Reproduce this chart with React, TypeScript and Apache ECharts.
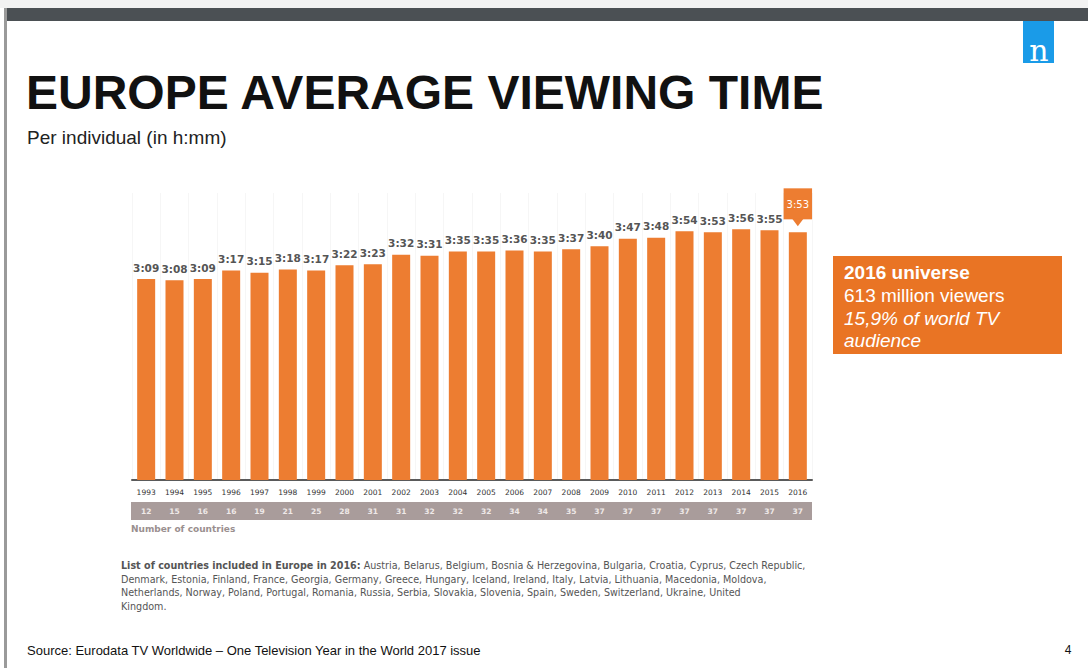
import React, { useEffect, useRef } from "react";
import * as echarts from "echarts";

const years = ["1993","1994","1995","1996","1997","1998","1999","2000","2001","2002","2003","2004","2005","2006","2007","2008","2009","2010","2011","2012","2013","2014","2015","2016"];
const minutes = [189,188,189,197,195,198,197,202,203,212,211,215,215,216,215,217,220,227,228,234,233,236,235,233];
const countries = ["12","15","16","16","19","21","25","28","31","31","32","32","32","34","34","35","37","37","37","37","37","37","37","37"];

const fmt = (m: number) => `${Math.floor(m / 60)}:${String(m % 60).padStart(2, "0")}`;

const ORANGE = "#ed7d31";

export default function App() {
  const ref = useRef<HTMLDivElement>(null);
  useEffect(() => {
    const chart = echarts.init(ref.current!, null, { renderer: "svg" });
    const last = minutes.length - 1;
    const barData = minutes.map((v, i) =>
      i === last
        ? {
            value: v,
            label: {
              show: true,
              position: "top",
              distance: 13,
              backgroundColor: ORANGE,
              color: "#fff",
              padding: [11, 3, 10, 3],
              fontSize: 10,
              fontWeight: "normal",
              formatter: (p: any) => fmt(p.value),
            },
          }
        : v
    );
    chart.setOption({
      animation: false,
      backgroundColor: "#fff",
      grid: [{ left: 132, right: 276, top: 193, height: 287 }],
      xAxis: [
        {
          type: "category",
          data: years,
          gridIndex: 0,
          axisLine: { show: true, lineStyle: { color: "#5a5a5a", width: 2 } },
          axisTick: { show: false },
          axisLabel: { interval: 0, color: "#333", fontSize: 7.5, margin: 8, fontFamily: "DejaVu Sans" },
          splitLine: { show: true, lineStyle: { color: "#f6f6f6" } },
        },
        {
          type: "category",
          data: countries,
          gridIndex: 0,
          position: "bottom",
          offset: 19,
          axisLine: { show: false },
          axisTick: { show: false },
          axisLabel: { interval: 0, color: "#efe9e8", fontSize: 7.5, fontFamily: "DejaVu Sans", fontWeight: "bold" },
        },
      ],
      yAxis: [{ type: "value", min: 0, max: 270, show: false, gridIndex: 0 }],
      series: [
        {
          type: "bar",
          data: barData,
          barWidth: 18,
          itemStyle: { color: ORANGE },
          label: {
            show: true,
            position: "top",
            distance: 6,
            color: "#555",
            fontSize: 10.5,
            fontFamily: "DejaVu Sans",
            fontWeight: "bold",
            formatter: (p: any) => fmt(p.value),
          },
          markPoint: {
            silent: true,
            data: [
              {
                coord: [years[last], minutes[last]],
                symbol: "triangle",
                symbolRotate: 180,
                symbolSize: [12, 8],
                symbolOffset: [0, -10],
                itemStyle: { color: ORANGE },
                label: { show: false },
              },
            ],
          },
        },
      ],
      graphic: [
        { type: "rect", shape: { x: 0, y: 0, width: 1088, height: 8 }, style: { fill: "#f2f2f2" } },
        { type: "rect", shape: { x: 4, y: 8, width: 1084, height: 13 }, style: { fill: "#4b5054" } },
        { type: "rect", shape: { x: 4, y: 8, width: 3, height: 660 }, style: { fill: "#9a9a9a" } },
        { type: "rect", shape: { x: 1023, y: 21, width: 31, height: 42 }, style: { fill: "#1a9be8" } },
        {
          type: "text",
          x: 1039,
          y: 50,
          style: { text: "n", fill: "#fff", font: "30px 'DejaVu Serif'", textAlign: "center", textVerticalAlign: "middle" },
        },
        {
          type: "text",
          x: 26,
          y: 92,
          style: {
            text: "EUROPE AVERAGE VIEWING TIME",
            fill: "#111",
            font: "bold 48px 'Liberation Sans'",
            textVerticalAlign: "middle",
          },
        },
        {
          type: "text",
          x: 27,
          y: 137,
          style: { text: "Per individual (in h:mm)", fill: "#222", font: "19px 'Liberation Sans'", textVerticalAlign: "middle" },
        },
        { type: "rect", z: -1, shape: { x: 131, y: 502, width: 681, height: 18 }, style: { fill: "#a99c9b" } },
        {
          type: "text",
          x: 131,
          y: 529,
          style: { text: "Number of countries", fill: "#9a8f8f", font: "bold 9px 'DejaVu Sans'", textVerticalAlign: "middle" },
        },
        { type: "rect", shape: { x: 833, y: 256, width: 229, height: 98 }, style: { fill: "#e97424" } },
        {
          type: "text",
          x: 844,
          y: 272,
          style: { text: "2016 universe", fill: "#fff", font: "bold 19px 'Liberation Sans'", textVerticalAlign: "middle" },
        },
        {
          type: "text",
          x: 844,
          y: 295,
          style: { text: "613 million viewers", fill: "#fff", font: "19px 'Liberation Sans'", textVerticalAlign: "middle" },
        },
        {
          type: "text",
          x: 844,
          y: 318,
          style: { text: "15,9% of world TV", fill: "#fff", font: "italic 19px 'Liberation Sans'", textVerticalAlign: "middle" },
        },
        {
          type: "text",
          x: 844,
          y: 340,
          style: { text: "audience", fill: "#fff", font: "italic 19px 'Liberation Sans'", textVerticalAlign: "middle" },
        },
        {
          type: "text",
          x: 121,
          y: 559,
          style: {
            text:
              "{b|List of countries included in Europe in 2016:} Austria, Belarus, Belgium, Bosnia & Herzegovina, Bulgaria, Croatia, Cyprus, Czech Republic,\nDenmark, Estonia, Finland, France, Georgia, Germany, Greece, Hungary, Iceland, Ireland, Italy, Latvia, Lithuania, Macedonia, Moldova,\nNetherlands, Norway, Poland, Portugal, Romania, Russia, Serbia, Slovakia, Slovenia, Spain, Sweden, Switzerland, Ukraine, United\nKingdom.",
            fill: "#555",
            font: "9.6px 'DejaVu Sans'",
            lineHeight: 13.5,
            rich: {
              b: { fontWeight: "bold", fill: "#555", fontSize: 9.6, fontFamily: "DejaVu Sans", lineHeight: 13.5 },
            },
          } as any,
        },
        {
          type: "text",
          x: 27,
          y: 650,
          style: {
            text: "Source: Eurodata TV Worldwide \u2013 One Television Year in the World 2017 issue",
            fill: "#111",
            font: "13px 'Liberation Sans'",
            textVerticalAlign: "middle",
          },
        },
        {
          type: "text",
          x: 1068,
          y: 650,
          style: { text: "4", fill: "#111", font: "12px 'Liberation Sans'", textVerticalAlign: "middle", textAlign: "center" },
        },
      ],
    });
    return () => chart.dispose();
  }, []);
  return <div ref={ref} style={{ position: "fixed", left: 0, top: 0, width: 1088, height: 668 }} />;
}
